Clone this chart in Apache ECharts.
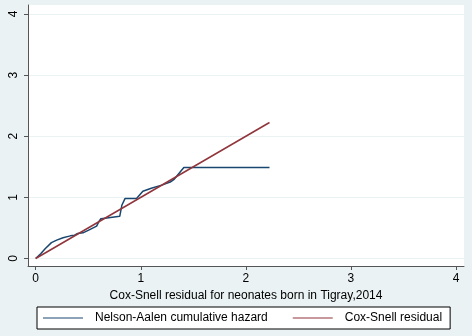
<!DOCTYPE html>
<html>
<head>
<meta charset="utf-8">
<script src="https://cdn.jsdelivr.net/npm/echarts@6/dist/echarts.min.js"></script>
<style>
html, body { margin: 0; padding: 0; background: #eaf2f3; }
#chart { width: 472px; height: 336px; }
</style>
</head>
<body>
<div id="chart"></div>
<script>
var myChart = echarts.init(document.getElementById('chart'));

// 刻度
var xTicks = [0, 1, 2, 3, 4];
var yTicks = [0, 1, 2, 3, 4];

// Nelson-Aalen cumulative hazard (x = Cox-Snell residual, y = hazard)
var naX = [0, 0.05, 0.09, 0.15, 0.2, 0.26, 0.33, 0.37, 0.4, 0.45, 0.5, 0.58, 0.6, 0.62, 0.66, 0.8, 0.82, 0.85, 0.96, 1.02, 1.1, 1.2, 1.28, 1.32, 1.41, 2.225];
var naY = [0, 0.08, 0.16, 0.26, 0.3, 0.34, 0.37, 0.38, 0.41, 0.42, 0.46, 0.53, 0.6, 0.65, 0.66, 0.69, 0.87, 0.98, 0.98, 1.1, 1.15, 1.2, 1.25, 1.3, 1.49, 1.49];

// Cox-Snell residual reference line
var csX = [0, 2.225];
var csY = [0, 2.225];

function pairs(xs, ys) {
	return xs.map(function (x, i) { return [x, ys[i]]; });
}

var font = 'Liberation Sans, Arial, sans-serif';

myChart.setOption({
	backgroundColor: '#eaf2f3',
	animation: false,
	grid: {
		left: 28,
		right: 8,
		top: 5,
		bottom: 70,
		show: true,
		backgroundColor: '#ffffff',
		borderWidth: 0
	},
	xAxis: {
		type: 'value',
		min: -0.073,
		max: 4.076,
		name: 'Cox-Snell residual for neonates born in Tigray,2014',
		nameLocation: 'middle',
		nameGap: 20,
		nameTextStyle: { color: '#000', fontSize: 12, fontFamily: font },
		axisLine: { onZero: false, lineStyle: { color: '#555', width: 1 } },
		axisTick: { customValues: xTicks, length: 4, lineStyle: { color: '#555' } },
		axisLabel: { customValues: xTicks, color: '#000', fontSize: 12, fontFamily: font, margin: 7 },
		splitLine: { show: false }
	},
	yAxis: {
		type: 'value',
		min: -0.123,
		max: 4.147,
		axisLine: { show: true, onZero: false, lineStyle: { color: '#555', width: 1 } },
		axisTick: { show: true, customValues: yTicks, length: 4, lineStyle: { color: '#555' } },
		axisLabel: { customValues: yTicks, rotate: 90, color: '#000', fontSize: 12, fontFamily: font, margin: 8 },
		splitLine: { show: true, lineStyle: { color: '#eaf2f3', width: 1 } }
	},
	legend: {
		left: 37,
		top: 307,
		width: 416,
		orient: 'horizontal',
		backgroundColor: '#ffffff',
		borderColor: '#000',
		borderWidth: 1,
		borderRadius: 0,
		padding: [5, 8, 5, 6],
		itemWidth: 40,
		itemHeight: 1,
		itemGap: 25,
		icon: 'rect',
		textStyle: { color: '#000', fontSize: 12, fontFamily: font, padding: [0, 0, 0, 7] },
		data: ['Nelson-Aalen cumulative hazard', 'Cox-Snell residual']
	},
	series: [
		{
			name: 'Nelson-Aalen cumulative hazard',
			type: 'line',
			symbol: 'none',
			color: '#1a476f',
			lineStyle: { color: '#1a476f', width: 1.5 },
			data: pairs(naX, naY)
		},
		{
			name: 'Cox-Snell residual',
			type: 'line',
			symbol: 'none',
			color: '#90353b',
			lineStyle: { color: '#90353b', width: 1.5 },
			data: pairs(csX, csY)
		}
	]
});
</script>
</body>
</html>
